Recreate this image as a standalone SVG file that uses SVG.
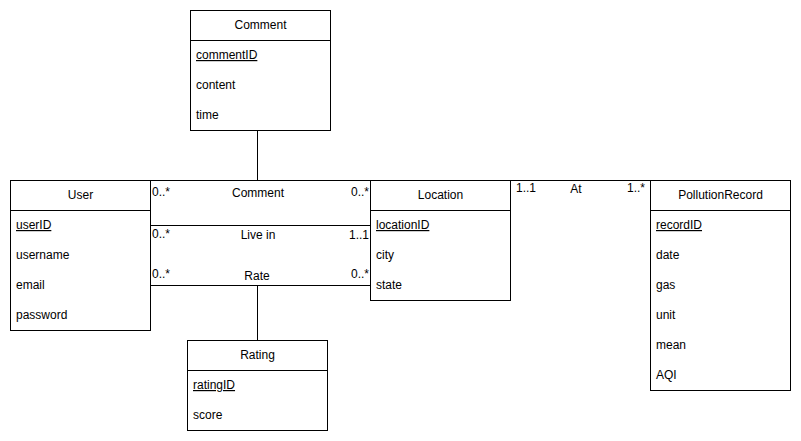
<svg xmlns="http://www.w3.org/2000/svg" width="801" height="441" viewBox="0 0 801 441">
<style>
.box{fill:#fff;stroke:#000;stroke-width:1}
.ln{fill:none;stroke:#000;stroke-width:1}
text{font-family:"Liberation Sans",Arial,sans-serif;font-size:12px;fill:#000}
.h{text-anchor:middle}
.u{text-decoration:underline}
.e{text-anchor:end}
</style>
<rect width="801" height="441" fill="#fff"/>
<g id="connectors">
<path class="ln" d="M150.5 180.5H370.5"/>
<path class="ln" d="M257.5 130.5V180.5"/>
<path class="ln" d="M150.5 225.5H370.5"/>
<path class="ln" d="M150.5 285.5H370.5"/>
<path class="ln" d="M257.5 285.5V340.5"/>
<path class="ln" d="M510.5 180.5H650.5"/>
<text x="152" y="196">0..*</text>
<text x="258" y="197" class="h">Comment</text>
<text x="369" y="196" class="e">0..*</text>
<text x="152" y="238">0..*</text>
<text x="258" y="239" class="h">Live in</text>
<text x="369" y="239" class="e">1..1</text>
<text x="152" y="278">0..*</text>
<text x="257" y="280" class="h">Rate</text>
<text x="369" y="278" class="e">0..*</text>
<text x="516" y="192">1..1</text>
<text x="576" y="193" class="h">At</text>
<text x="645" y="192" class="e">1..*</text>
</g>
<g id="comment">
<rect class="box" x="190.5" y="10.5" width="140" height="120"/>
<path class="ln" d="M190.5 40.5H330.5"/>
<text x="260.5" y="29" class="h">Comment</text>
<text x="196" y="59" class="u">commentID</text>
<text x="196" y="89">content</text>
<text x="196" y="119">time</text>
</g>
<g id="user">
<rect class="box" x="10.5" y="180.5" width="140" height="150"/>
<path class="ln" d="M10.5 210.5H150.5"/>
<text x="80.5" y="199" class="h">User</text>
<text x="16" y="229" class="u">userID</text>
<text x="16" y="259">username</text>
<text x="16" y="289">email</text>
<text x="16" y="319">password</text>
</g>
<g id="location">
<rect class="box" x="370.5" y="180.5" width="140" height="120"/>
<path class="ln" d="M370.5 210.5H510.5"/>
<text x="440.5" y="199" class="h">Location</text>
<text x="376" y="229" class="u">locationID</text>
<text x="376" y="259">city</text>
<text x="376" y="289">state</text>
</g>
<g id="pollutionrecord">
<rect class="box" x="650.5" y="180.5" width="140" height="210"/>
<path class="ln" d="M650.5 210.5H790.5"/>
<text x="720.5" y="199" class="h">PollutionRecord</text>
<text x="656" y="229" class="u">recordID</text>
<text x="656" y="259">date</text>
<text x="656" y="289">gas</text>
<text x="656" y="319">unit</text>
<text x="656" y="349">mean</text>
<text x="656" y="379">AQI</text>
</g>
<g id="rating">
<rect class="box" x="187.5" y="340.5" width="140" height="90"/>
<path class="ln" d="M187.5 370.5H327.5"/>
<text x="257.5" y="359" class="h">Rating</text>
<text x="193" y="389" class="u">ratingID</text>
<text x="193" y="419">score</text>
</g>
</svg>
